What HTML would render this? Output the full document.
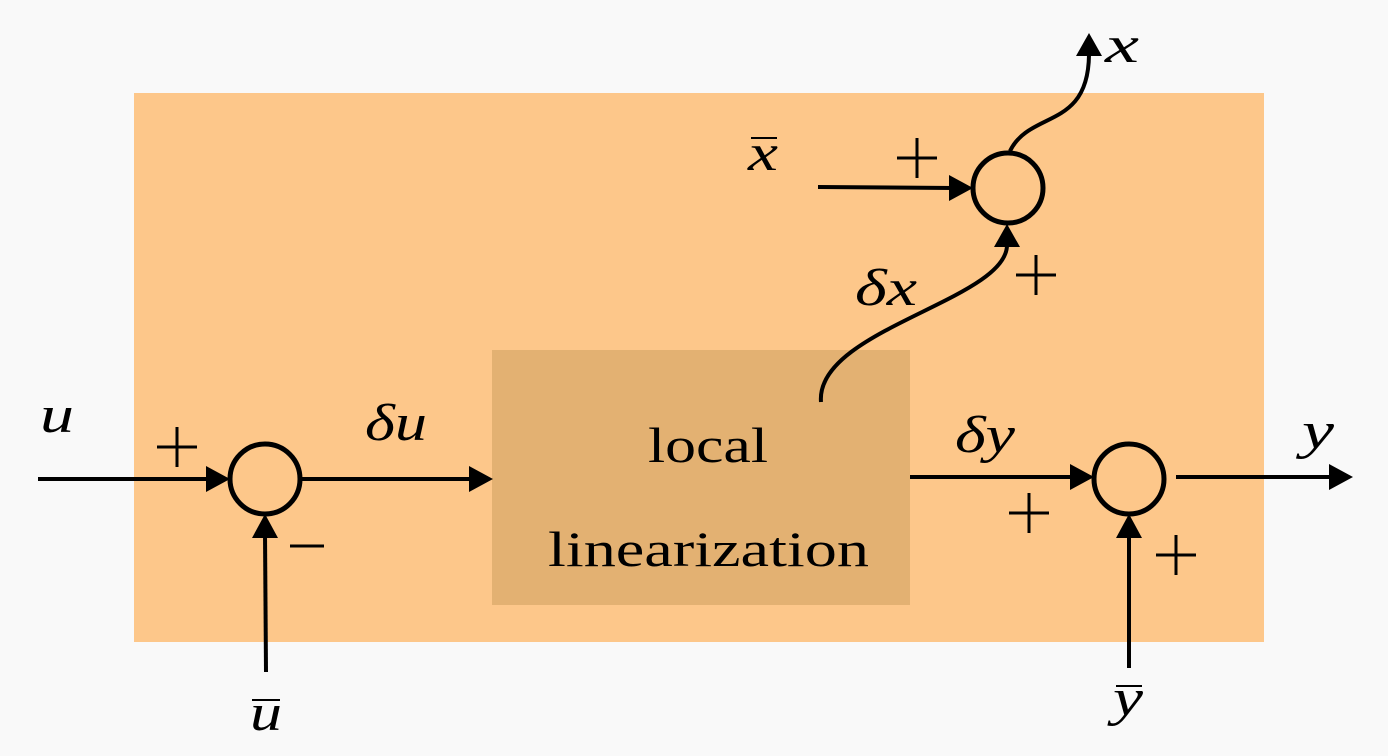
<!DOCTYPE html>
<html><head><meta charset="utf-8"><style>
html,body{margin:0;padding:0;background:#f9f9f9;}
svg{display:block;}
text{font-family:"Liberation Serif",serif;fill:#000;}
.m{font-style:italic;font-size:52px;}
.p{font-size:50px;}
</style></head><body>
<svg width="1388" height="756" viewBox="0 0 1388 756" xmlns="http://www.w3.org/2000/svg">
<rect x="0" y="0" width="1388" height="756" fill="#f9f9f9"/>
<rect x="134" y="93" width="1130" height="549" fill="#fdc78a"/>
<rect x="492" y="350" width="418" height="255" fill="#e3b172"/>
<g stroke="#000" stroke-width="5" fill="none">
<circle cx="265" cy="479" r="35"/>
<circle cx="1008" cy="188" r="35"/>
<circle cx="1129" cy="479" r="35"/>
</g>
<g stroke="#000" stroke-width="4" fill="none">
<line x1="38" y1="479" x2="210" y2="479"/>
<line x1="301" y1="479" x2="472" y2="479"/>
<line x1="910" y1="477" x2="1073" y2="477"/>
<line x1="1176" y1="477" x2="1332" y2="477"/>
<line x1="266" y1="672" x2="265" y2="534"/>
<line x1="1129" y1="668" x2="1129" y2="534"/>
<line x1="818" y1="187" x2="953" y2="188"/>
<path d="M821,402 C815,330 1007,300 1007,245"/>
<path d="M1010,151 C1030,110 1088,130 1089,55"/>
</g>
<g stroke="#000" stroke-width="3" fill="none">
<path d="M157,447 h40 M177,427 v40"/>
<path d="M897,158 h40 M917,138 v40"/>
<path d="M1016,275 h40 M1036,255 v40"/>
<path d="M1009,513 h40 M1029,493 v40"/>
<path d="M1156,555 h40 M1176,535 v40"/>
<path d="M290,546 h34"/>
</g>
<g fill="#000">
<polygon points="230,479 206,466 206,492"/>
<polygon points="493,479 469,466 469,492"/>
<polygon points="1094,477 1070,464 1070,490"/>
<polygon points="1353,477 1329,464 1329,490"/>
<polygon points="265,514 252,538 278,538"/>
<polygon points="1129,514 1116,538 1142,538"/>
<polygon points="973,188 949,175 949,201"/>
<polygon points="1007,224 994,247 1020,247"/>
<polygon points="1089,33 1076,56 1102,56"/>
</g>
<text class="m" x="40" y="432" textLength="34" lengthAdjust="spacingAndGlyphs">u</text>
<text class="m" x="365" y="440" textLength="62" lengthAdjust="spacingAndGlyphs">δu</text>
<text class="m" x="250" y="730" textLength="32" lengthAdjust="spacingAndGlyphs">u</text>
<line x1="252" y1="700" x2="280" y2="700" stroke="#000" stroke-width="2"/>
<text class="p" x="648" y="462" textLength="120" lengthAdjust="spacingAndGlyphs">local</text>
<text class="p" x="548" y="566" textLength="321" lengthAdjust="spacingAndGlyphs">linearization</text>
<text class="m" x="955" y="452" textLength="60" lengthAdjust="spacingAndGlyphs">δy</text>
<text class="m" x="1302" y="448" textLength="32" lengthAdjust="spacingAndGlyphs">y</text>
<text class="m" x="1113" y="715" textLength="30" lengthAdjust="spacingAndGlyphs">y</text>
<line x1="1116" y1="686" x2="1142" y2="686" stroke="#000" stroke-width="2"/>
<text class="m" x="748" y="170" textLength="30" lengthAdjust="spacingAndGlyphs">x</text>
<line x1="751" y1="138" x2="777" y2="138" stroke="#000" stroke-width="2"/>
<text class="m" x="855" y="305" textLength="62" lengthAdjust="spacingAndGlyphs">δx</text>
<text class="m" x="1105" y="62" textLength="34" lengthAdjust="spacingAndGlyphs">x</text>
</svg>
</body></html>
